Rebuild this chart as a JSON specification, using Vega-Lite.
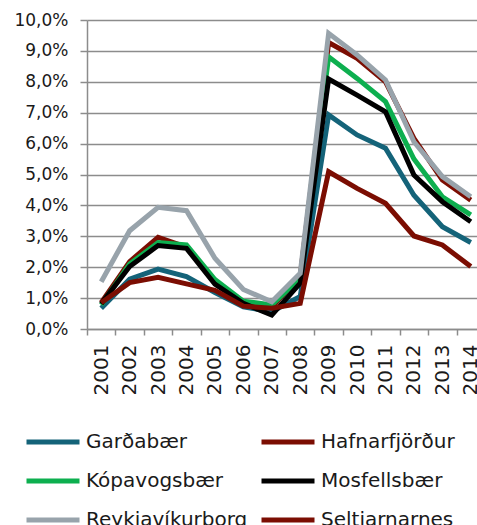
{
  "$schema": "https://vega.github.io/schema/vega-lite/v6.json",
  "autosize": "none",
  "width": 398,
  "height": 309,
  "padding": {"left": 87, "top": 20, "right": 0, "bottom": 196},
  "background": "white",
  "config": {
    "font": "DejaVu Sans",
    "view": {"stroke": null},
    "axis": {"labelFont": "DejaVu Sans", "labelColor": "#1a1a1a", "domainColor": "#8c8c8c", "tickColor": "#8c8c8c", "gridColor": "#8c8c8c", "domainWidth": 1.5, "tickWidth": 1.5, "gridWidth": 1.5, "title": null}
  },
  "data": {"values": [
    {"year":"2001","city":"Garðabær","v":0.0067},{"year":"2002","city":"Garðabær","v":0.0161},{"year":"2003","city":"Garðabær","v":0.0194},{"year":"2004","city":"Garðabær","v":0.0170},{"year":"2005","city":"Garðabær","v":0.0118},{"year":"2006","city":"Garðabær","v":0.0072},{"year":"2007","city":"Garðabær","v":0.0056},{"year":"2008","city":"Garðabær","v":0.0105},{"year":"2009","city":"Garðabær","v":0.0693},{"year":"2010","city":"Garðabær","v":0.0628},{"year":"2011","city":"Garðabær","v":0.0585},{"year":"2012","city":"Garðabær","v":0.0433},{"year":"2013","city":"Garðabær","v":0.0331},{"year":"2014","city":"Garðabær","v":0.0280},
    {"year":"2001","city":"Hafnarfjörður","v":0.0085},{"year":"2002","city":"Hafnarfjörður","v":0.0218},{"year":"2003","city":"Hafnarfjörður","v":0.0297},{"year":"2004","city":"Hafnarfjörður","v":0.0265},{"year":"2005","city":"Hafnarfjörður","v":0.0152},{"year":"2006","city":"Hafnarfjörður","v":0.0085},{"year":"2007","city":"Hafnarfjörður","v":0.0070},{"year":"2008","city":"Hafnarfjörður","v":0.0170},{"year":"2009","city":"Hafnarfjörður","v":0.0927},{"year":"2010","city":"Hafnarfjörður","v":0.0876},{"year":"2011","city":"Hafnarfjörður","v":0.0800},{"year":"2012","city":"Hafnarfjörður","v":0.0617},{"year":"2013","city":"Hafnarfjörður","v":0.0482},{"year":"2014","city":"Hafnarfjörður","v":0.0417},
    {"year":"2001","city":"Kópavogsbær","v":0.0078},{"year":"2002","city":"Kópavogsbær","v":0.0210},{"year":"2003","city":"Kópavogsbær","v":0.0280},{"year":"2004","city":"Kópavogsbær","v":0.0272},{"year":"2005","city":"Kópavogsbær","v":0.0160},{"year":"2006","city":"Kópavogsbær","v":0.0090},{"year":"2007","city":"Kópavogsbær","v":0.0078},{"year":"2008","city":"Kópavogsbær","v":0.0164},{"year":"2009","city":"Kópavogsbær","v":0.0881},{"year":"2010","city":"Kópavogsbær","v":0.0811},{"year":"2011","city":"Kópavogsbær","v":0.0736},{"year":"2012","city":"Kópavogsbær","v":0.0550},{"year":"2013","city":"Kópavogsbær","v":0.0428},{"year":"2014","city":"Kópavogsbær","v":0.0369},
    {"year":"2001","city":"Mosfellsbær","v":0.0082},{"year":"2002","city":"Mosfellsbær","v":0.0202},{"year":"2003","city":"Mosfellsbær","v":0.0270},{"year":"2004","city":"Mosfellsbær","v":0.0261},{"year":"2005","city":"Mosfellsbær","v":0.0145},{"year":"2006","city":"Mosfellsbær","v":0.0083},{"year":"2007","city":"Mosfellsbær","v":0.0045},{"year":"2008","city":"Mosfellsbær","v":0.0148},{"year":"2009","city":"Mosfellsbær","v":0.0809},{"year":"2010","city":"Mosfellsbær","v":0.0757},{"year":"2011","city":"Mosfellsbær","v":0.0703},{"year":"2012","city":"Mosfellsbær","v":0.0498},{"year":"2013","city":"Mosfellsbær","v":0.0412},{"year":"2014","city":"Mosfellsbær","v":0.0347},
    {"year":"2001","city":"Reykjavíkurborg","v":0.0153},{"year":"2002","city":"Reykjavíkurborg","v":0.0318},{"year":"2003","city":"Reykjavíkurborg","v":0.0394},{"year":"2004","city":"Reykjavíkurborg","v":0.0383},{"year":"2005","city":"Reykjavíkurborg","v":0.0229},{"year":"2006","city":"Reykjavíkurborg","v":0.0128},{"year":"2007","city":"Reykjavíkurborg","v":0.0088},{"year":"2008","city":"Reykjavíkurborg","v":0.0180},{"year":"2009","city":"Reykjavíkurborg","v":0.0957},{"year":"2010","city":"Reykjavíkurborg","v":0.0887},{"year":"2011","city":"Reykjavíkurborg","v":0.0806},{"year":"2012","city":"Reykjavíkurborg","v":0.0606},{"year":"2013","city":"Reykjavíkurborg","v":0.0493},{"year":"2014","city":"Reykjavíkurborg","v":0.0428},
    {"year":"2001","city":"Seltjarnarnes","v":0.0085},{"year":"2002","city":"Seltjarnarnes","v":0.0150},{"year":"2003","city":"Seltjarnarnes","v":0.0167},{"year":"2004","city":"Seltjarnarnes","v":0.0146},{"year":"2005","city":"Seltjarnarnes","v":0.0125},{"year":"2006","city":"Seltjarnarnes","v":0.0074},{"year":"2007","city":"Seltjarnarnes","v":0.0067},{"year":"2008","city":"Seltjarnarnes","v":0.0083},{"year":"2009","city":"Seltjarnarnes","v":0.0509},{"year":"2010","city":"Seltjarnarnes","v":0.0455},{"year":"2011","city":"Seltjarnarnes","v":0.0407},{"year":"2012","city":"Seltjarnarnes","v":0.0301},{"year":"2013","city":"Seltjarnarnes","v":0.0272},{"year":"2014","city":"Seltjarnarnes","v":0.0202}
  ]},
  "mark": {"type": "line", "strokeWidth": 5, "strokeJoin": "miter"},
  "encoding": {
    "x": {"field": "year", "type": "ordinal", "scale": {"type": "band", "paddingInner": 0, "paddingOuter": 0},
      "axis": {"labelAngle": -90, "labelAlign": "right", "labelBaseline": "middle", "labelFontSize": 20, "tickBand": "extent", "tickSize": 6, "labelPadding": 9, "grid": false}},
    "y": {"field": "v", "type": "quantitative", "scale": {"domain": [0, 0.1], "nice": false},
      "axis": {"values": [0,0.01,0.02,0.03,0.04,0.05,0.06,0.07,0.08,0.09,0.1], "labelExpr": "replace(format(datum.value, '.1%'), '.', ',')", "labelFontSize": 17, "tickSize": 7, "labelPadding": 12, "grid": true}},
    "color": {"field": "city", "type": "nominal",
      "scale": {"domain": ["Garðabær","Hafnarfjörður","Kópavogsbær","Mosfellsbær","Reykjavíkurborg","Seltjarnarnes"], "range": ["#146379","#7B0D02","#0DAF4F","#000000","#98A3AB","#7B0D02"]},
      "legend": {"title": null, "orient": "none", "direction": "horizontal", "legendX": -63, "legendY": 393, "columns": 2, "symbolType": "stroke", "symbolSize": 2809, "symbolStrokeWidth": 5, "labelFontSize": 20, "labelColor": "#1a1a1a", "labelOffset": 4, "rowPadding": -20.5, "columnPadding": 3, "labelLimit": 300}}
  }
}
